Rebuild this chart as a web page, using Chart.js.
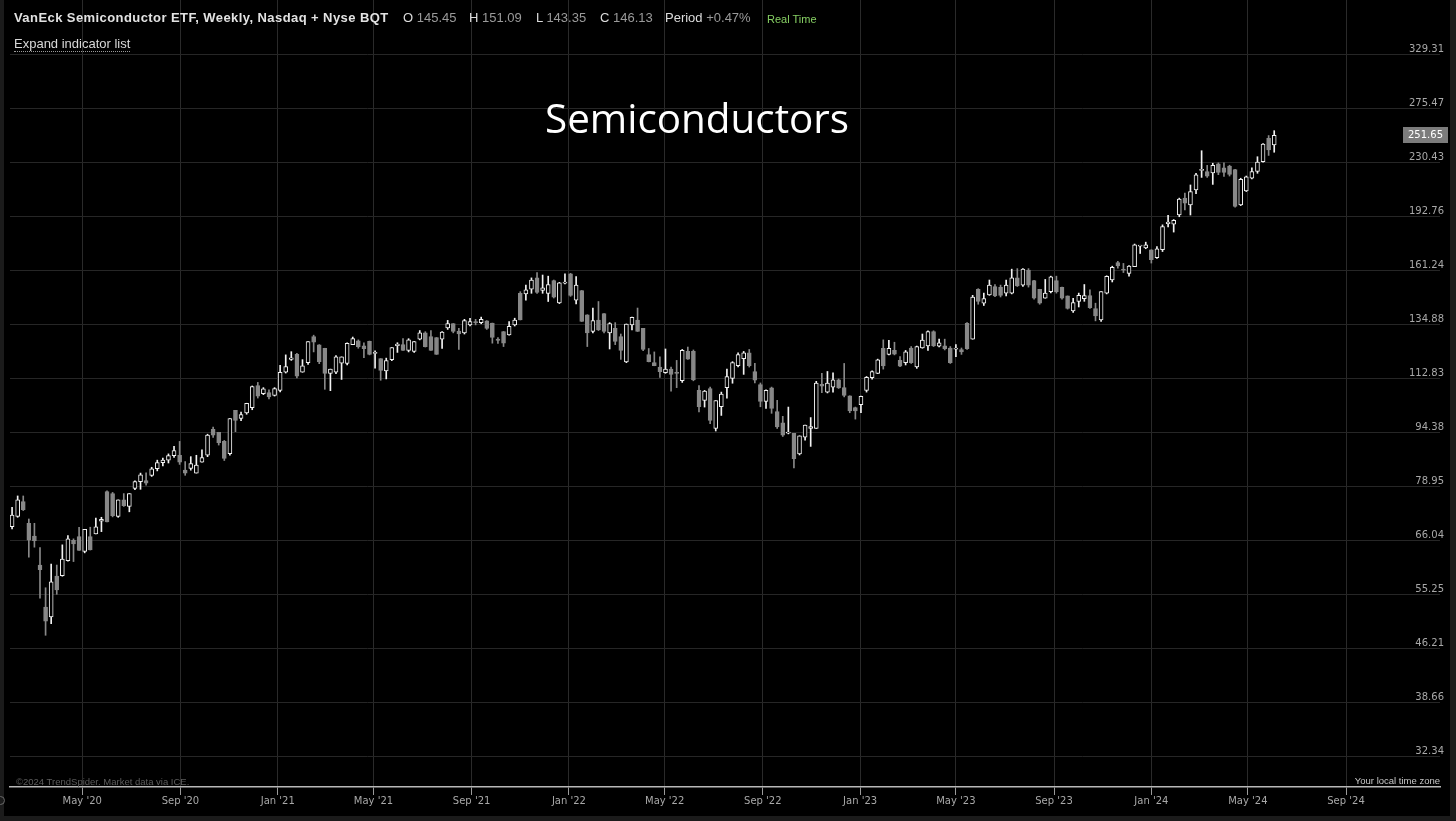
<!DOCTYPE html>
<html>
<head>
<meta charset="utf-8">
<script src="https://cdn.jsdelivr.net/npm/chart.js@4.4.1/dist/chart.umd.min.js"></script>
<style>
html,body{margin:0;padding:0;background:#1b1b1b;width:1456px;height:821px;overflow:hidden;position:relative;}
#frame{position:absolute;left:4px;top:0;width:1446px;height:816px;background:#000;}
#c{position:absolute;left:0;top:0;}
.t{position:absolute;white-space:nowrap;font-family:"Liberation Sans",Arial,sans-serif;line-height:16px;}
.lbl{color:#dcdcdc;}
.val{color:#9a9a9a;}
</style>
</head>
<body>
<div id="frame"><canvas id="c" width="1446" height="816"></canvas></div>

<div class="t" style="left:14px;top:10px;font-size:13px;font-weight:bold;color:#e2e2e2;letter-spacing:0.42px;">VanEck Semiconductor ETF, Weekly, Nasdaq + Nyse BQT</div>
<div class="t" style="left:403px;top:10px;font-size:13px;"><span class="lbl">O</span> <span class="val">145.45</span></div>
<div class="t" style="left:469px;top:10px;font-size:13px;"><span class="lbl">H</span> <span class="val">151.09</span></div>
<div class="t" style="left:536px;top:10px;font-size:13px;"><span class="lbl">L</span> <span class="val">143.35</span></div>
<div class="t" style="left:600px;top:10px;font-size:13px;"><span class="lbl">C</span> <span class="val">146.13</span></div>
<div class="t" style="left:665px;top:10px;font-size:13px;"><span class="lbl">Period</span> <span class="val">+0.47%</span></div>
<div class="t" style="left:767px;top:11px;font-size:11px;color:#86cf63;">Real Time</div>
<div class="t" style="left:14px;top:36px;font-size:13px;color:#d8d8d8;border-bottom:1px dotted #9a9a9a;line-height:15px;">Expand indicator list</div>

<div class="t" style="left:545px;top:98px;font-family:'Open Sans',sans-serif;font-size:40.4px;line-height:40px;color:#ffffff;">Semiconductors</div>

<div class="t" style="left:16px;top:776px;font-size:9.5px;line-height:11px;color:#5c5c5c;">©2024 TrendSpider. Market data via ICE.</div>
<div class="t" style="right:16px;top:775px;font-size:9.5px;line-height:11px;color:#c8c8c8;">Your local time zone</div>
<div style="position:absolute;left:-4px;top:796px;width:7px;height:7px;border:1px solid #6a6a6a;border-radius:50%;"></div>

<script>
// ---- data ----
const firstWeek = '2020-02-03'; // weekly candles, Monday dates
const opens = [
  69.0, 71.4, 75.0, 69.8, 66.9, 60.8, 52.9, 51.2, 58.6, 58.7,
  61.7, 66.0, 66.8, 63.6, 66.8, 67.4, 70.3, 77.5, 77.0, 71.4,
  75.4, 73.8, 78.3, 80.1, 80.4, 81.8, 83.6, 85.3, 86.0, 87.3,
  87.4, 83.2, 83.7, 82.4, 85.4, 87.4, 95.2, 94.3, 91.5, 87.9,
  101.4, 98.7, 100.5, 102.3, 110.0, 107.1, 107.5, 106.5, 108.3, 115.0,
  120.0, 122.0, 115.0, 118.7, 129.4, 125.9, 124.5, 114.6, 115.0, 118.5,
  118.4, 126.0, 127.6, 125.5, 127.4, 122.4, 120.3, 115.5, 119.9, 125.6,
  126.0, 123.6, 123.2, 128.3, 131.0, 129.4, 129.0, 128.3, 133.2, 135.1,
  131.8, 131.0, 134.5, 136.0, 135.5, 136.3, 135.3, 128.3, 131.6, 130.1,
  134.5, 149.3, 149.0, 151.3, 157.1, 150.7, 149.3, 155.7, 144.6, 154.4,
  159.2, 146.0, 150.7, 139.1, 131.6, 136.7, 139.6, 131.0, 133.0, 129.4,
  119.0, 134.5, 136.7, 133.0, 121.9, 118.7, 117.0, 114.8, 116.2, 114.9,
  111.8, 123.2, 123.2, 108.3, 104.8, 109.0, 95.5, 102.6, 109.3, 112.7,
  117.5, 120.3, 122.6, 115.3, 110.4, 104.4, 109.2, 101.0, 97.3, 94.0,
  94.0, 87.8, 92.8, 95.5, 95.5, 110.5, 107.7, 109.5, 112.2, 109.3,
  106.4, 102.3, 103.3, 108.3, 113.0, 114.6, 124.5, 122.0, 123.6, 119.6,
  118.7, 124.6, 117.0, 124.6, 125.5, 131.6, 125.4, 125.5, 124.6, 124.1,
  124.0, 135.2, 128.3, 151.3, 144.5, 148.5, 152.6, 152.3, 149.4, 149.4,
  157.1, 153.4, 161.2, 155.7, 151.3, 146.9, 150.1, 155.7, 152.3, 148.0,
  140.9, 145.4, 146.7, 148.2, 142.0, 136.7, 149.4, 156.0, 165.2, 161.6,
  159.4, 163.1, 174.5, 173.5, 172.4, 167.9, 172.4, 187.9, 187.7, 193.4,
  204.5, 200.0, 210.1, 224.2, 223.2, 222.3, 229.0, 226.0, 227.4, 224.8,
  200.0, 209.5, 218.4, 223.3, 230.7, 249.3, 243.8
];
const highs = [
  73.6, 76.4, 76.4, 70.8, 69.8, 64.4, 56.4, 61.0, 60.8, 65.0,
  67.0, 66.3, 68.9, 68.4, 68.9, 71.0, 71.2, 77.7, 77.3, 75.4,
  77.0, 77.0, 80.3, 82.4, 82.5, 84.0, 86.0, 86.6, 87.8, 90.0,
  91.5, 85.6, 87.0, 87.4, 89.0, 93.7, 95.9, 94.3, 91.8, 98.7,
  101.4, 100.8, 103.8, 109.9, 111.2, 109.3, 108.5, 109.3, 117.7, 121.8,
  123.1, 122.4, 119.9, 127.3, 130.0, 126.0, 124.5, 116.2, 121.5, 121.0,
  126.8, 129.2, 128.0, 126.8, 127.5, 123.4, 120.3, 120.5, 124.8, 126.8,
  128.5, 128.5, 127.3, 132.0, 131.5, 132.0, 129.0, 131.5, 136.5, 135.1,
  133.0, 137.0, 137.5, 137.0, 138.0, 136.4, 135.3, 129.0, 131.6, 136.0,
  137.5, 150.1, 153.4, 157.1, 159.9, 158.6, 158.0, 156.0, 154.8, 159.2,
  159.5, 157.8, 150.7, 139.1, 142.2, 145.3, 139.6, 135.5, 135.5, 130.5,
  134.9, 138.0, 142.2, 133.0, 124.4, 123.0, 121.0, 124.2, 117.0, 119.6,
  124.0, 125.0, 123.8, 110.0, 108.3, 109.5, 104.7, 107.7, 116.2, 119.1,
  122.6, 123.2, 124.0, 118.4, 111.0, 108.5, 109.5, 104.8, 99.4, 102.5,
  94.0, 93.2, 96.6, 99.0, 111.6, 114.6, 115.3, 114.8, 112.5, 118.4,
  106.4, 102.5, 106.3, 113.4, 115.5, 120.1, 128.0, 127.8, 127.0, 121.1,
  123.6, 125.2, 125.4, 130.5, 131.9, 131.9, 128.3, 128.3, 125.2, 126.0,
  124.6, 135.5, 148.3, 151.6, 149.4, 156.0, 153.7, 153.4, 156.0, 161.7,
  162.0, 162.0, 162.0, 155.8, 151.3, 156.3, 158.0, 158.0, 152.4, 148.0,
  146.8, 149.4, 153.7, 151.0, 144.5, 150.1, 158.2, 163.3, 166.0, 164.8,
  163.6, 175.7, 174.9, 176.8, 172.4, 174.3, 187.2, 193.2, 190.5, 204.5,
  207.9, 213.6, 222.0, 239.2, 227.9, 229.5, 229.8, 229.8, 228.0, 225.0,
  218.4, 220.0, 226.0, 234.5, 245.0, 251.5, 255.6
];
const lows = [
  68.5, 71.2, 72.8, 62.4, 64.5, 54.5, 48.2, 50.1, 55.2, 58.6,
  61.6, 61.5, 63.8, 63.3, 63.9, 67.4, 67.9, 70.1, 71.3, 71.2,
  73.8, 72.5, 78.0, 78.1, 79.2, 81.5, 83.0, 84.4, 85.2, 86.8,
  84.8, 81.8, 83.2, 82.4, 85.4, 87.0, 92.7, 90.4, 85.9, 87.4,
  94.5, 98.0, 100.1, 101.6, 105.6, 106.8, 105.3, 106.3, 107.8, 114.7,
  119.6, 112.9, 115.0, 118.0, 123.0, 118.3, 108.7, 108.2, 114.5, 112.3,
  117.8, 126.0, 124.5, 120.7, 121.8, 116.6, 112.0, 112.5, 119.5, 122.8,
  123.6, 123.0, 122.8, 128.0, 125.0, 123.6, 122.0, 124.4, 132.5, 131.0,
  124.0, 130.5, 134.0, 134.5, 135.0, 132.5, 126.6, 126.5, 125.2, 130.0,
  134.0, 136.7, 146.0, 149.3, 149.3, 149.3, 145.3, 147.0, 144.3, 154.0,
  147.8, 144.2, 136.0, 125.2, 131.0, 132.0, 131.0, 124.2, 126.0, 120.0,
  118.7, 132.3, 131.6, 123.5, 119.0, 117.5, 113.1, 114.6, 108.0, 109.3,
  111.2, 120.0, 111.8, 100.9, 102.5, 97.0, 94.7, 99.7, 105.6, 110.9,
  117.0, 114.2, 117.0, 111.0, 102.6, 102.0, 100.4, 95.5, 93.0, 93.8,
  83.8, 87.5, 91.9, 90.0, 95.5, 107.5, 107.4, 107.7, 109.0, 106.0,
  100.6, 98.5, 100.6, 107.7, 112.4, 114.5, 116.2, 121.8, 121.8, 117.1,
  117.8, 118.4, 116.5, 124.5, 123.6, 125.2, 125.0, 123.8, 118.4, 121.1,
  122.0, 124.0, 128.3, 144.0, 143.4, 148.3, 147.6, 147.5, 148.0, 149.0,
  152.7, 152.7, 152.4, 146.4, 144.0, 146.9, 149.5, 149.4, 146.4, 141.7,
  140.2, 142.7, 145.4, 142.0, 136.3, 136.0, 149.0, 155.0, 162.3, 159.9,
  158.0, 163.1, 170.3, 173.0, 165.0, 167.5, 171.4, 185.9, 182.8, 192.3,
  196.7, 193.4, 207.5, 219.0, 219.0, 214.0, 221.0, 219.8, 220.0, 198.5,
  199.5, 209.0, 218.0, 222.0, 230.3, 235.5, 238.0
];
const closes = [
  71.7, 75.4, 73.0, 66.0, 65.9, 59.9, 50.5, 57.5, 56.0, 62.0,
  66.3, 65.2, 63.8, 68.4, 63.9, 69.0, 70.7, 70.1, 71.6, 75.4,
  74.0, 77.0, 80.1, 81.9, 79.7, 83.6, 85.3, 86.0, 87.3, 88.8,
  85.4, 82.4, 85.0, 84.6, 86.7, 93.4, 93.4, 91.1, 86.5, 98.7,
  98.1, 100.0, 103.8, 109.7, 106.3, 108.9, 106.0, 109.0, 115.0, 117.2,
  120.6, 113.5, 117.5, 127.3, 127.0, 119.1, 114.6, 116.2, 121.0, 121.0,
  126.5, 128.5, 125.2, 124.3, 122.0, 122.7, 115.7, 119.5, 124.8, 126.2,
  123.6, 128.0, 127.3, 131.0, 125.2, 123.6, 122.0, 131.3, 135.1, 131.6,
  130.5, 136.4, 136.0, 135.5, 137.0, 132.9, 129.0, 127.8, 126.6, 133.9,
  136.7, 136.7, 151.0, 156.0, 149.7, 152.0, 153.7, 147.4, 154.5, 154.8,
  148.3, 153.4, 136.0, 131.0, 136.4, 132.3, 131.6, 135.1, 127.3, 123.6,
  134.9, 137.9, 131.6, 124.0, 119.1, 117.5, 115.2, 116.2, 114.2, 114.6,
  123.6, 120.1, 112.1, 102.6, 108.1, 98.1, 104.7, 107.0, 113.4, 118.7,
  121.9, 122.6, 117.5, 112.0, 104.4, 108.3, 102.0, 96.0, 93.4, 94.4,
  86.4, 93.2, 96.6, 96.1, 111.0, 109.8, 111.0, 112.2, 109.2, 106.5,
  101.2, 101.2, 106.2, 113.1, 115.3, 119.8, 117.4, 124.5, 122.1, 117.3,
  123.0, 118.7, 125.2, 127.9, 131.6, 125.5, 126.8, 124.3, 118.7, 124.6,
  123.0, 124.3, 147.5, 145.3, 146.7, 153.4, 148.0, 148.3, 153.4, 157.1,
  153.0, 161.7, 153.4, 146.9, 144.5, 149.4, 157.6, 150.1, 146.9, 142.0,
  144.8, 148.3, 148.2, 142.4, 138.6, 150.1, 157.9, 162.7, 163.5, 161.1,
  163.4, 175.2, 174.7, 175.2, 166.8, 173.0, 186.2, 188.9, 190.0, 203.8,
  201.2, 208.9, 220.9, 224.8, 219.9, 227.9, 222.7, 222.7, 221.2, 198.9,
  217.7, 219.5, 223.3, 230.3, 244.6, 239.8, 251.65
];
const xTickDates = ['2020-05-01','2020-09-01','2021-01-01','2021-05-01','2021-09-01','2022-01-01','2022-05-01','2022-09-01','2023-01-01','2023-05-01','2023-09-01','2024-01-01','2024-05-01','2024-09-01'];
const xTickLabels = ["May '20","Sep '20","Jan '21","May '21","Sep '21","Jan '22","May '22","Sep '22","Jan '23","May '23","Sep '23","Jan '24","May '24","Sep '24"];
const yTickValues = [32.34, 38.66, 46.21, 55.25, 66.04, 78.95, 94.38, 112.83, 134.88, 161.24, 192.76, 230.43, 275.47, 329.31];

// ---- helpers ----
const DAY0 = Date.UTC(2020, 0, 1);
function dayNum(s) { const p = s.split('-').map(Number); return (Date.UTC(p[0], p[1] - 1, p[2]) - DAY0) / 86400000; }
const t0 = dayNum(firstWeek);
const weekDays = opens.map((_, i) => t0 + 7 * i);
const xTickDays = xTickDates.map(dayNum);

const WHITE = '#f2f2f2';
const GRAY = '#888888';
const isUp = i => closes[i] >= opens[i];

const bodies = weekDays.map((t, i) => ({ x: t, y: [opens[i], closes[i]] }));
const wicks = weekDays.map((t, i) => ({ x: t, y: [lows[i], highs[i]] }));

const lastPrice = {
  id: 'lastPrice',
  afterDraw(chart) {
    const { ctx, scales: { y } } = chart;
    const v = closes[closes.length - 1];
    const py = Math.round(y.getPixelForValue(v));
    ctx.save();
    ctx.fillStyle = '#7c7c7c';
    ctx.fillRect(1399, py - 8, 45, 16);
    ctx.fillStyle = '#ffffff';
    ctx.font = '10px "DejaVu Sans"';
    ctx.textAlign = 'center';
    ctx.textBaseline = 'middle';
    ctx.fillText(v.toFixed(2), 1421.5, py + 0.5);
    ctx.restore();
  }
};

new Chart(document.getElementById('c'), {
  type: 'bar',
  data: {
    datasets: [
      {
        label: 'body',
        data: bodies,
        grouped: false,
        barThickness: 4,
        minBarLength: 1,
        borderWidth: 1,
        borderSkipped: false,
        backgroundColor: ctx => isUp(ctx.dataIndex) ? '#000000' : GRAY,
        borderColor: ctx => isUp(ctx.dataIndex) ? WHITE : GRAY
      },
      {
        label: 'wick',
        data: wicks,
        grouped: false,
        barThickness: 1,
        borderWidth: 0,
        backgroundColor: ctx => isUp(ctx.dataIndex) ? WHITE : GRAY
      }
    ]
  },
  options: {
    responsive: false,
    animation: false,
    devicePixelRatio: 1,
    layout: { padding: { left: 6, top: 0, right: 0, bottom: 0 } },
    plugins: { legend: { display: false }, tooltip: { enabled: false }, title: { display: false } },
    scales: {
      x: {
        type: 'linear',
        bounds: 'data',
        min: 30.4,
        max: 1822.8,
        offset: false,
        afterBuildTicks: s => { s.ticks = xTickDays.map(v => ({ value: v })); },
        afterFit: s => { s.height = 29; s.paddingLeft = 0; s.paddingRight = 0; },
        grid: { offset: false, color: '#2a2a2a', tickColor: '#9a9a9a', tickLength: 8, lineWidth: 1 },
        border: { display: true, color: '#b8b8b8', width: 1.5 },
        ticks: {
          color: '#a8a8a8', font: { family: 'DejaVu Sans', size: 10 }, padding: 0,
          maxRotation: 0, autoSkip: false,
          callback: (v, i) => xTickLabels[i]
        }
      },
      y: {
        type: 'logarithmic',
        position: 'right',
        bounds: 'data',
        min: 29.19,
        max: 393.7,
        afterBuildTicks: s => { s.ticks = yTickValues.map(v => ({ value: v })); },
        afterFit: s => { s.width = 10; s.paddingTop = 0; s.paddingBottom = 0; },
        grid: { color: '#262626', drawTicks: false, lineWidth: 1 },
        border: { display: false },
        ticks: {
          mirror: true, padding: 4, labelOffset: -5, autoSkip: false,
          color: '#a8a8a8', font: { family: 'DejaVu Sans', size: 10 },
          callback: v => Number(v).toFixed(2)
        }
      }
    }
  },
  plugins: [lastPrice]
});
</script>
</body>
</html>
